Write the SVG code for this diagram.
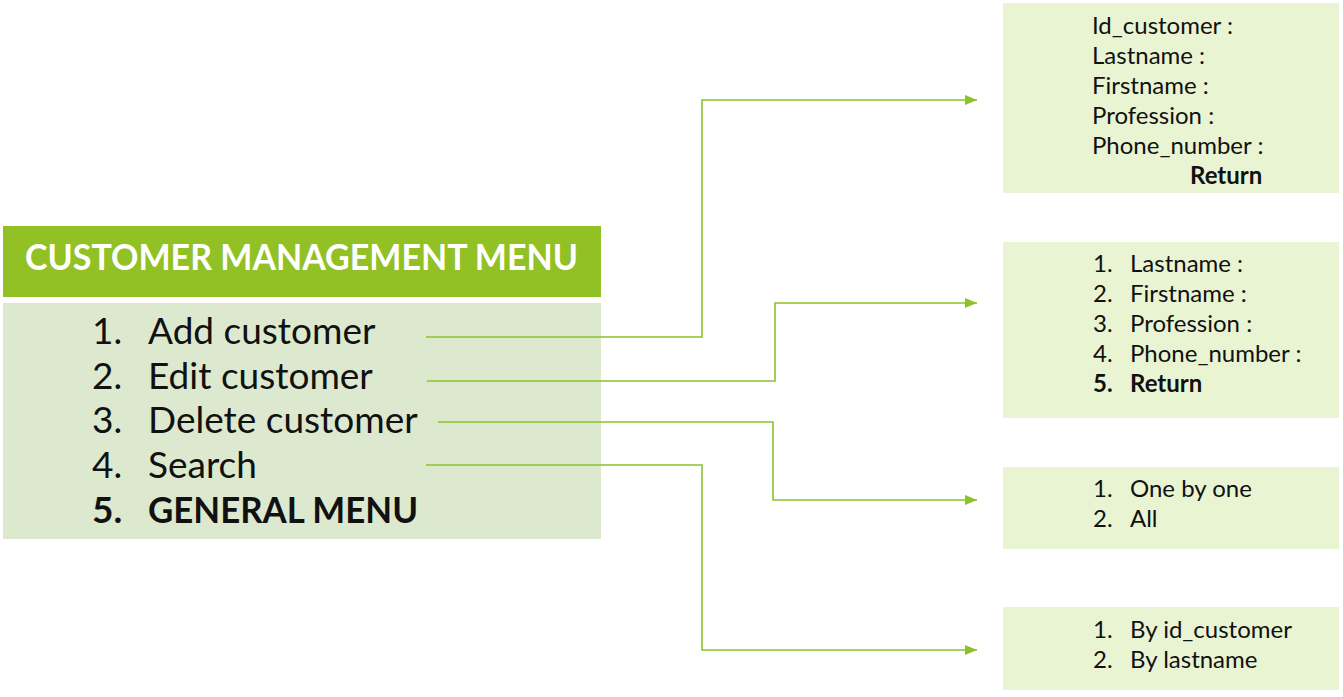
<svg xmlns="http://www.w3.org/2000/svg" width="1343" height="697" viewBox="0 0 1343 697">
<style>
.t{font-family:Lato,"Open Sans","DejaVu Sans",sans-serif;fill:#111}
.m{font-size:37px}
.s{font-size:24px}
.b{font-weight:bold}
.h{font-family:Lato,"Open Sans","DejaVu Sans",sans-serif;font-size:36px;font-weight:bold;fill:#fff}
.box{fill:#e9f4d3}
.c{fill:none;stroke:#8dc12a;stroke-width:1.6}
</style>
<defs>
<marker id="ah" viewBox="0 0 12 10" refX="12" refY="5" markerWidth="12" markerHeight="10" markerUnits="userSpaceOnUse" orient="auto">
<path d="M0,0 L12,5 L0,10 Z" fill="#8dc12a"/>
</marker>
</defs>
<g id="menu">
<rect x="3" y="226" width="598" height="71" fill="#92c125"/>
<text class="h" x="25" y="270" textLength="553" lengthAdjust="spacingAndGlyphs">CUSTOMER MANAGEMENT MENU</text>
<rect x="3" y="303" width="598" height="236" fill="#dce9cf"/>
<text class="t m" x="92" y="344">1.</text><text class="t m" x="148" y="344">Add customer</text>
<text class="t m" x="92" y="389">2.</text><text class="t m" x="148" y="389">Edit customer</text>
<text class="t m" x="92" y="433">3.</text><text class="t m" x="148" y="433">Delete customer</text>
<text class="t m" x="92" y="478">4.</text><text class="t m" x="148" y="478">Search</text>
<text class="t m b" x="92" y="523">5.</text><text class="t m b" x="148" y="523" textLength="270" lengthAdjust="spacingAndGlyphs">GENERAL MENU</text>
</g>
<g id="add">
<rect class="box" x="1003" y="3" width="336" height="190"/>
<text class="t s" x="1092" y="34">Id_customer :</text>
<text class="t s" x="1092" y="64">Lastname :</text>
<text class="t s" x="1092" y="94">Firstname :</text>
<text class="t s" x="1092" y="124">Profession :</text>
<text class="t s" x="1092" y="154">Phone_number :</text>
<text class="t s b" x="1190" y="184">Return</text>
</g>
<g id="edit">
<rect class="box" x="1003" y="242" width="336" height="176"/>
<text class="t s" x="1093" y="272">1.</text><text class="t s" x="1130" y="272">Lastname :</text>
<text class="t s" x="1093" y="302">2.</text><text class="t s" x="1130" y="302">Firstname :</text>
<text class="t s" x="1093" y="332">3.</text><text class="t s" x="1130" y="332">Profession :</text>
<text class="t s" x="1093" y="362">4.</text><text class="t s" x="1130" y="362">Phone_number :</text>
<text class="t s b" x="1093" y="392">5.</text><text class="t s b" x="1130" y="392">Return</text>
</g>
<g id="delete">
<rect class="box" x="1003" y="467" width="336" height="82"/>
<text class="t s" x="1093" y="497">1.</text><text class="t s" x="1130" y="497">One by one</text>
<text class="t s" x="1093" y="527">2.</text><text class="t s" x="1130" y="527">All</text>
</g>
<g id="search">
<rect class="box" x="1003" y="607" width="336" height="83"/>
<text class="t s" x="1093" y="638">1.</text><text class="t s" x="1130" y="638">By id_customer</text>
<text class="t s" x="1093" y="668">2.</text><text class="t s" x="1130" y="668">By lastname</text>
</g>
<g id="connectors">
<path class="c" d="M426,337 H702 V100 H977" marker-end="url(#ah)"/>
<path class="c" d="M427,381 H775 V303 H977" marker-end="url(#ah)"/>
<path class="c" d="M438,422 H773 V500 H977" marker-end="url(#ah)"/>
<path class="c" d="M426,465 H702 V650 H977" marker-end="url(#ah)"/>
</g>
</svg>
